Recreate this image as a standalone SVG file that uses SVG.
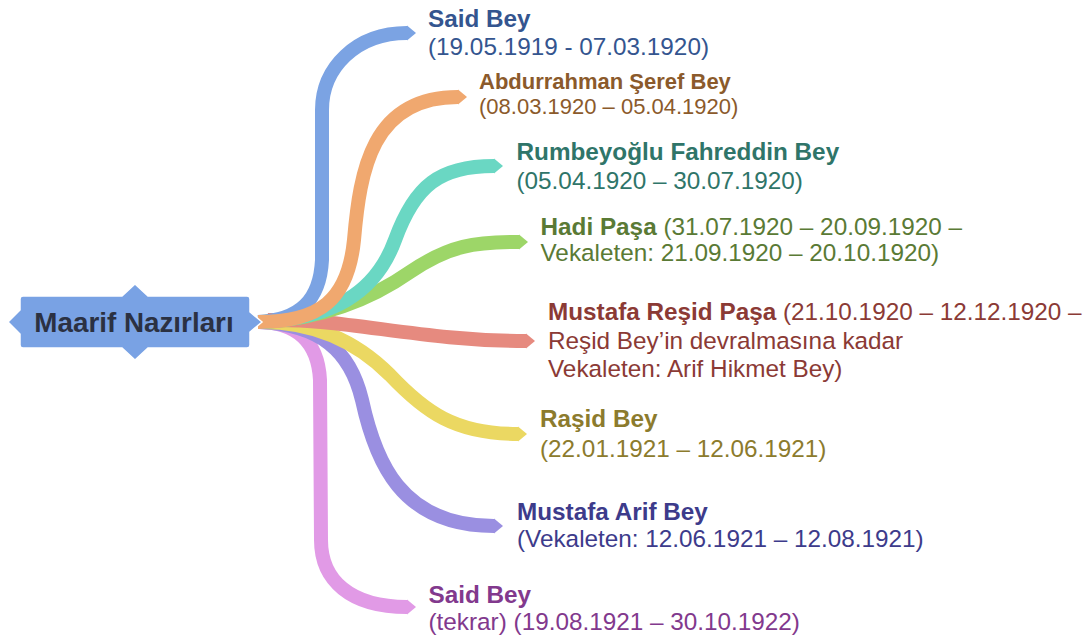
<svg xmlns="http://www.w3.org/2000/svg" width="1090" height="642" viewBox="0 0 1090 642">
<style>
.b{fill:none;stroke-width:14;stroke-linecap:butt}
.t{font-family:"Liberation Sans",Arial,sans-serif;font-size:24.3px}
.s{font-size:22px}
.bd{font-weight:bold}
</style>
<rect width="1090" height="642" fill="#ffffff"/>
<g id="connectors">
<g id="c8"><path class="b" stroke="#e19ae6" d="M258,322 C295,322 318,340 320,380 L321,540 C321,580 350,607 407,607"/><polygon fill="#e19ae6" points="407,599.5 416,607 407,614.5"/></g>
<g id="c7"><path class="b" stroke="#9a8fe1" d="M260,322 C320,325 350,350 362,400 C375,460 400,526 494,526"/><polygon fill="#9a8fe1" points="494,518.5 503,526 494,533.5"/></g>
<g id="c6"><path class="b" stroke="#ebd862" d="M262,322 C320,322 360,345 390,375 C425,412 455,434 518,434"/><polygon fill="#ebd862" points="518,426.5 527,434 518,441.5"/></g>
<g id="c5"><path class="b" stroke="#e68a7f" d="M268,320 C345,318 420,341 526,341"/><polygon fill="#e68a7f" points="526,333.5 535,341 526,348.5"/></g>
<g id="c4"><path class="b" stroke="#9dd668" d="M265,322 C320,318 370,300 410,272 C450,245 475,242 519,242"/><polygon fill="#9dd668" points="519,234.5 528,242 519,249.5"/></g>
<g id="c3"><path class="b" stroke="#6ad7c3" d="M262,322 C330,318 375,295 395,240 C415,185 440,166 494,166"/><polygon fill="#6ad7c3" points="494,158.5 503,166 494,173.5"/></g>
<g id="c1"><path class="b" stroke="#7ba3e3" d="M258,322 C300,320 320,300 322,260 L322,110 C322,68 356,33 407,33"/><polygon fill="#7ba3e3" points="407,25.5 416,33 407,40.5"/></g>
<g id="c2"><path class="b" stroke="#f0a86f" d="M258,322 C320,322 348,300 354,240 C360,170 372,97 458,97"/><polygon fill="#f0a86f" points="458,89.5 467,97 458,104.5"/></g>
</g>
<g id="root">
<path fill="#79a2e4" stroke="#ffffff" stroke-width="1.5" d="M23,296 L122,296 L135,284 L148,296 L247,296 Q250,296 250,299 L250,312 L262,322 L250,332 L250,345 Q250,348 247,348 L148,348 L135,360 L122,348 L23,348 Q20,348 20,345 L20,334 L8,322 L20,310 L20,299 Q20,296 23,296 Z"/>
<text class="t bd" x="134" y="331.5" text-anchor="middle" fill="#2b3142" style="font-size:27.8px">Maarif Nazırları</text>
</g>
<g id="n1" class="t" fill="#34558f"><text x="428" y="27" class="bd">Said Bey</text><text x="428" y="54.5">(19.05.1919 - 07.03.1920)</text></g>
<g id="n2" class="t s" fill="#8b5a2b"><text x="479" y="89" class="bd">Abdurrahman Şeref Bey</text><text x="479" y="114">(08.03.1920 – 05.04.1920)</text></g>
<g id="n3" class="t" fill="#2f7569"><text x="516.5" y="160" class="bd">Rumbeyoğlu Fahreddin Bey</text><text x="516.5" y="189">(05.04.1920 – 30.07.1920)</text></g>
<g id="n4" class="t" fill="#5a7a35"><text x="540.5" y="234.5"><tspan class="bd">Hadi Paşa</tspan> (31.07.1920 – 20.09.1920 –</text><text x="540.5" y="260.5">Vekaleten: 21.09.1920 – 20.10.1920)</text></g>
<g id="n5" class="t" fill="#8b3a35"><text x="548" y="319.5"><tspan class="bd">Mustafa Reşid Paşa</tspan> (21.10.1920 – 12.12.1920 –</text><text x="548" y="348.5">Reşid Bey’in devralmasına kadar</text><text x="548" y="377">Vekaleten: Arif Hikmet Bey)</text></g>
<g id="n6" class="t" fill="#8c7b2d"><text x="540" y="427" class="bd">Raşid Bey</text><text x="540" y="456.5">(22.01.1921 – 12.06.1921)</text></g>
<g id="n7" class="t" fill="#3d3b8b"><text x="517" y="519.5" class="bd">Mustafa Arif Bey</text><text x="517" y="547">(Vekaleten: 12.06.1921 – 12.08.1921)</text></g>
<g id="n8" class="t" fill="#82398d"><text x="428.5" y="602.5" class="bd">Said Bey</text><text x="428.5" y="629.5">(tekrar) (19.08.1921 – 30.10.1922)</text></g>
</svg>
